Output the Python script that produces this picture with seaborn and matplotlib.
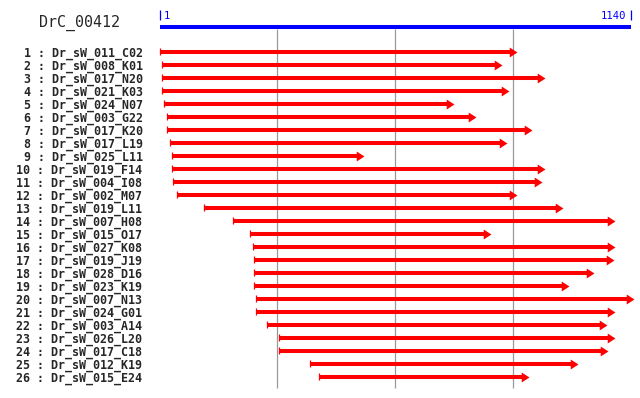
import matplotlib
matplotlib.use("Agg")
import matplotlib.pyplot as plt
from matplotlib.path import Path
from matplotlib.markers import MarkerStyle
import seaborn as sns
import pandas as pd

title = "DrC_00412"
seq_len = 1140
grid_pos = [285, 570, 855]
clones = ["Dr_sW_011_C02", "Dr_sW_008_K01", "Dr_sW_017_N20", "Dr_sW_021_K03",
          "Dr_sW_024_N07", "Dr_sW_003_G22", "Dr_sW_017_K20", "Dr_sW_017_L19",
          "Dr_sW_025_L11", "Dr_sW_019_F14", "Dr_sW_004_I08", "Dr_sW_002_M07",
          "Dr_sW_019_L11", "Dr_sW_007_H08", "Dr_sW_015_O17", "Dr_sW_027_K08",
          "Dr_sW_019_J19", "Dr_sW_028_D16", "Dr_sW_023_K19", "Dr_sW_007_N13",
          "Dr_sW_024_G01", "Dr_sW_003_A14", "Dr_sW_026_L20", "Dr_sW_017_C18",
          "Dr_sW_012_K19", "Dr_sW_015_E24"]
starts = [1, 6, 6, 6, 11, 19, 19, 24, 31, 31, 33, 43, 108, 178, 219, 227,
          229, 229, 229, 234, 234, 260, 289, 289, 363, 385]
ends = [864, 827, 932, 845, 711, 764, 900, 840, 494, 932, 926, 864, 975, 1101,
        801, 1101, 1099, 1050, 990, 1147, 1101, 1082, 1101, 1084, 1012, 893]

df = pd.DataFrame({"clone": clones, "start": starts, "end": ends})
df["row"] = range(1, len(df) + 1)

sns.set_style("white")
plt.rcParams["font.family"] = ["DejaVu Sans Mono", "DejaVu Sans"]

fig = plt.figure(figsize=(6.4, 3.98), dpi=100)
ax = fig.add_axes([0, 0, 1, 1])

red = "#ff0000"
blue = "#0000ff"

# grid lines
ax.vlines(grid_pos, -0.78, 26.87, color="#999999", lw=0.9, zorder=1)

# sequence bar
ax.hlines(-0.92, 1, seq_len, color=blue, lw=2.9, zorder=2)
ax.vlines([1, seq_len], -2.21, -1.44, color=blue, lw=0.9)
ax.annotate("1", (1, -1.48), xytext=(2.6, 0), textcoords="offset points",
            color=blue, fontsize=7.6, ha="left", va="baseline")
ax.annotate(str(seq_len), (seq_len, -1.48), xytext=(-3.4, 0), textcoords="offset points",
            color=blue, fontsize=7.6, ha="right", va="baseline")

# title
ax.text(39 / 640, 1 - 22.8 / 398, title, transform=ax.transAxes,
        fontsize=10.8, ha="left", va="center")

# shafts
head_units = 17
ax.hlines(df["row"], df["start"], df["end"] - head_units * 0.6,
          color=red, lw=2.9, capstyle="butt", zorder=3)
ax.vlines(df["start"], df["row"] - 0.28, df["row"] + 0.28, color=red, lw=0.9, zorder=3)

# heads
head = MarkerStyle(Path([(0, 0), (-1, 0.64), (-1, -0.64), (0, 0)],
                        [Path.MOVETO, Path.LINETO, Path.LINETO, Path.CLOSEPOLY]))
sns.scatterplot(data=df, x="end", y="row", marker=head, s=125, color=red,
                linewidth=0, ax=ax, zorder=4, legend=False)
ax.set_xlim(-385.9, 1161.8)
ax.set_ylim(27.64, -2.98)
ax.axis("off")

# labels
for r, name in zip(df["row"], df["clone"]):
    ax.text(142.5 / 640, r, f"{r} : {name}", transform=ax.get_yaxis_transform(),
            fontsize=8.4, fontweight="bold", ha="right", va="center_baseline")

fig.savefig("out.png", dpi=100)
